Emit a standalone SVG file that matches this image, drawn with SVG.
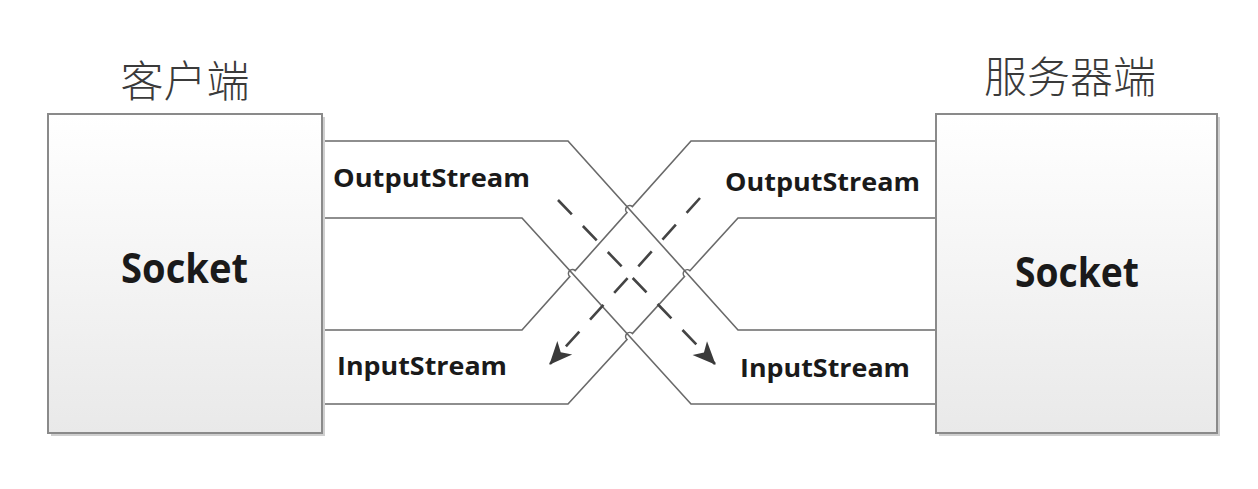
<svg xmlns="http://www.w3.org/2000/svg" width="1258" height="489" viewBox="0 0 1258 489">
<defs>
<linearGradient id="boxfill" x1="0" y1="0" x2="0" y2="1">
<stop offset="0" stop-color="#ffffff"/>
<stop offset="1" stop-color="#e9e9e9"/>
</linearGradient>
<marker id="arrow" markerUnits="userSpaceOnUse" markerWidth="28" markerHeight="28" viewBox="0 0 28 28" refX="24" refY="14" orient="auto">
<path d="M2,4 L25,14 L2,24 L8,14 Z" fill="#3a3a3a"/>
</marker>
</defs>
<style>
.box{fill:url(#boxfill);stroke:#8a8a8a;stroke-width:2}
.shadow{fill:#cfcfcf}
.wire{fill:none;stroke:#6a6a6a;stroke-width:1.6}
.dash{fill:none;stroke:#444;stroke-width:2.6;stroke-dasharray:20 16}
.title{font-family:"Noto Sans CJK SC","Noto Sans",sans-serif;font-size:43px;font-weight:300;fill:#3a3a3a;text-anchor:middle}
.big{font-family:"Open Sans","Liberation Sans",sans-serif;font-weight:700;font-size:41px;fill:#1a1a1a}
.lbl{font-family:"Open Sans","Liberation Sans",sans-serif;font-weight:700;font-size:25px;fill:#1a1a1a}
</style>
<rect width="1258" height="489" fill="#ffffff"/>
<g id="connectors">
<path class="wire" d="M322,141 L568,141 L738,330 L936,330"/>
<path class="wire" d="M322,218 L522,218 L691,404 L936,404"/>
<path class="wire" d="M936,141 L691,141 L632.4,206.6 A4,4 0 0,0 627,212.6 L575.2,270.6 A4,4 0 0,0 569.8,276.6 L522,330 L322,330"/>
<path class="wire" d="M936,218 L738,218 L689.9,270.7 A4,4 0 0,0 684.5,276.6 L632.4,333.5 A4,4 0 0,0 627,339.5 L568,404 L322,404"/>
<path class="dash" d="M558,200 L715,364" marker-end="url(#arrow)"/>
<path class="dash" d="M700,198 L550,364" marker-end="url(#arrow)"/>
</g>
<g id="client">
<rect class="shadow" x="51" y="117" width="274" height="319"/>
<rect class="box" x="48" y="114" width="274" height="319"/>
<text class="title" x="185" y="97">客户端</text>
<text class="big" x="121" y="283" textLength="127" lengthAdjust="spacingAndGlyphs">Socket</text>
<text class="lbl" x="333" y="187" textLength="197" lengthAdjust="spacingAndGlyphs">OutputStream</text>
<text class="lbl" x="337" y="375" textLength="170" lengthAdjust="spacingAndGlyphs">InputStream</text>
</g>
<g id="server">
<rect class="shadow" x="939" y="117" width="281" height="319"/>
<rect class="box" x="936" y="114" width="281" height="319"/>
<text class="title" x="1070" y="93">服务器端</text>
<text class="big" x="1015" y="287" textLength="124" lengthAdjust="spacingAndGlyphs">Socket</text>
<text class="lbl" x="725" y="191" textLength="195" lengthAdjust="spacingAndGlyphs">OutputStream</text>
<text class="lbl" x="740" y="377" textLength="170" lengthAdjust="spacingAndGlyphs">InputStream</text>
</g>
</svg>
